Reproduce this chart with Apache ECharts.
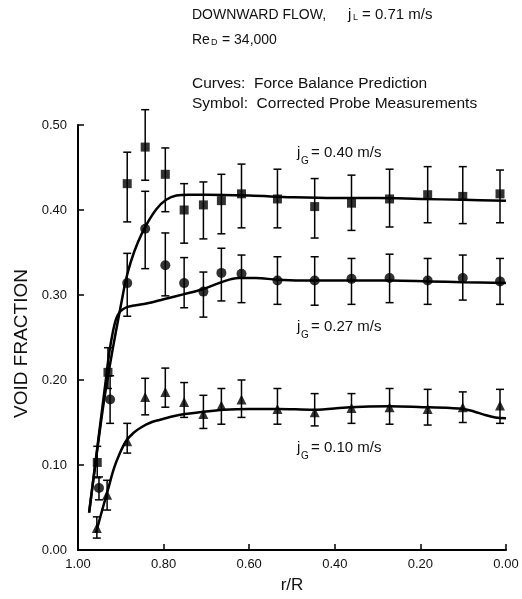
<!DOCTYPE html>
<html>
<head>
<meta charset="utf-8">
<title>Void fraction - downward flow</title>
<script src="https://cdn.jsdelivr.net/npm/echarts@6/dist/echarts.min.js"></script>
<style>
  html, body { margin: 0; padding: 0; background: #fff; }
  #chart { width: 522px; height: 599px; }
</style>
</head>
<body>
<div id="chart"></div>
<script>
// 测量点 jG = 0.40 m/s (方块)
var sqR   = [0.955, 0.930, 0.885, 0.843, 0.796, 0.752, 0.707, 0.665, 0.618, 0.534, 0.447, 0.361, 0.272, 0.183, 0.101, 0.014];
var sqVal = [0.103, 0.209, 0.431, 0.474, 0.442, 0.400, 0.406, 0.411, 0.419, 0.413, 0.404, 0.408, 0.413, 0.418, 0.416, 0.419];
var sqLo  = [0.085, 0.190, 0.386, 0.435, 0.398, 0.361, 0.366, 0.372, 0.379, 0.379, 0.367, 0.376, 0.380, 0.385, 0.384, 0.385];
var sqHi  = [0.122, 0.238, 0.468, 0.518, 0.473, 0.431, 0.433, 0.442, 0.454, 0.448, 0.437, 0.441, 0.448, 0.451, 0.451, 0.447];

// 测量点 jG = 0.27 m/s (圆点)
var ciR   = [0.951, 0.925, 0.885, 0.843, 0.796, 0.752, 0.707, 0.665, 0.618, 0.534, 0.447, 0.361, 0.272, 0.183, 0.101, 0.014];
var ciVal = [0.073, 0.177, 0.314, 0.378, 0.335, 0.314, 0.304, 0.326, 0.325, 0.317, 0.317, 0.319, 0.320, 0.317, 0.320, 0.316];
var ciLo  = [0.059, 0.149, 0.275, 0.331, 0.299, 0.285, 0.274, 0.293, 0.291, 0.289, 0.288, 0.289, 0.291, 0.289, 0.294, 0.289];
var ciHi  = [0.086, 0.205, 0.349, 0.422, 0.373, 0.344, 0.327, 0.355, 0.347, 0.345, 0.345, 0.343, 0.348, 0.343, 0.347, 0.343];

// 测量点 jG = 0.10 m/s (三角)
var trR   = [0.956, 0.932, 0.885, 0.843, 0.796, 0.752, 0.707, 0.665, 0.618, 0.534, 0.447, 0.361, 0.272, 0.183, 0.101, 0.014];
var trVal = [0.026, 0.065, 0.128, 0.180, 0.186, 0.174, 0.160, 0.170, 0.177, 0.166, 0.162, 0.167, 0.168, 0.166, 0.168, 0.170];
var trLo  = [0.014, 0.047, 0.114, 0.159, 0.168, 0.156, 0.143, 0.148, 0.156, 0.148, 0.146, 0.149, 0.148, 0.147, 0.150, 0.149];
var trHi  = [0.039, 0.082, 0.149, 0.202, 0.214, 0.197, 0.182, 0.190, 0.200, 0.190, 0.184, 0.184, 0.190, 0.189, 0.186, 0.189];

// 预测曲线 (Force Balance Prediction)
var sqCurveR = [0.974, 0.957, 0.939, 0.919, 0.899, 0.888, 0.876, 0.860, 0.841, 0.817, 0.794, 0.770, 0.740, 0.700, 0.600, 0.500, 0.400, 0.300, 0.200, 0.100, 0.000];
var sqCurveV = [0.044, 0.110, 0.176, 0.236, 0.290, 0.318, 0.340, 0.362, 0.382, 0.401, 0.412, 0.417, 0.418, 0.418, 0.417, 0.415, 0.414, 0.414, 0.413, 0.412, 0.411];
var ciCurveR = [0.974, 0.960, 0.945, 0.935, 0.927, 0.918, 0.911, 0.904, 0.896, 0.884, 0.865, 0.840, 0.800, 0.752, 0.707, 0.665, 0.625, 0.585, 0.534, 0.450, 0.360, 0.270, 0.180, 0.100, 0.000];
var ciCurveV = [0.044, 0.100, 0.160, 0.200, 0.232, 0.258, 0.272, 0.279, 0.283, 0.286, 0.288, 0.290, 0.295, 0.301, 0.307, 0.315, 0.320, 0.320, 0.318, 0.317, 0.317, 0.317, 0.316, 0.315, 0.314];
var trCurveR = [0.958, 0.944, 0.930, 0.916, 0.902, 0.888, 0.870, 0.850, 0.830, 0.810, 0.780, 0.750, 0.717, 0.660, 0.600, 0.534, 0.450, 0.365, 0.272, 0.194, 0.130, 0.100, 0.075, 0.050, 0.025, 0.000];
var trCurveV = [0.020, 0.046, 0.071, 0.096, 0.114, 0.128, 0.138, 0.145, 0.150, 0.153, 0.157, 0.160, 0.162, 0.165, 0.166, 0.166, 0.165, 0.168, 0.169, 0.168, 0.167, 0.166, 0.163, 0.159, 0.156, 0.155];

var xTicks = [0, 0.2, 0.4, 0.6, 0.8, 1.0];
var yTicks = [0, 0.1, 0.2, 0.3, 0.4, 0.5];

var FONT = '"Liberation Sans", Arial, Helvetica, sans-serif';

function pairs(xs, ys) {
  return xs.map(function(x, i) { return [x, ys[i]]; });
}
function bars(xs, lo, hi) {
  return xs.map(function(x, i) { return [x, lo[i], hi[i]]; });
}

// 误差棒
function renderErr(params, api) {
  var x = api.value(0);
  var lo = api.coord([x, api.value(1)]);
  var hi = api.coord([x, api.value(2)]);
  var w = 4;
  var st = { stroke: '#000', lineWidth: 1.5 };
  return {
    type: 'group',
    children: [
      { type: 'line', shape: { x1: hi[0], y1: hi[1], x2: lo[0], y2: lo[1] }, style: st },
      { type: 'line', shape: { x1: hi[0] - w, y1: hi[1], x2: hi[0] + w, y2: hi[1] }, style: st },
      { type: 'line', shape: { x1: lo[0] - w, y1: lo[1], x2: lo[0] + w, y2: lo[1] }, style: st }
    ]
  };
}

function txt(x, y, s, size) {
  return {
    type: 'text', x: x, y: y, silent: true,
    style: { text: s, fill: '#111', fontSize: size || 14, fontFamily: FONT, verticalAlign: 'middle' }
  };
}

var myChart = echarts.init(document.getElementById('chart'));

var option = {
  backgroundColor: '#fff',
  animation: false,
  grid: { left: 78, right: 16, top: 125, bottom: 49 },
  xAxis: {
    type: 'value', min: 0, max: 1, interval: 0.2, inverse: true,
    name: 'r/R', nameLocation: 'middle', nameGap: 27,
    nameTextStyle: { color: '#111', fontSize: 17, fontFamily: FONT },
    axisLine: { onZero: false, lineStyle: { color: '#000', width: 2 } },
    axisTick: { inside: true, length: 6, lineStyle: { color: '#000', width: 1.5 } },
    axisLabel: { color: '#111', fontSize: 13, fontFamily: FONT, margin: 8,
      formatter: function(v) { return v.toFixed(2); } },
    splitLine: { show: false }
  },
  yAxis: {
    type: 'value', min: 0, max: 0.5, interval: 0.1, position: 'left',
    name: 'VOID FRACTION', nameLocation: 'middle', nameGap: 40, nameRotate: 90,
    nameTextStyle: { color: '#111', fontSize: 19, fontFamily: FONT, padding: [0, 12, 0, 0] },
    axisLine: { onZero: false, lineStyle: { color: '#000', width: 2 } },
    axisTick: { inside: true, length: 6, lineStyle: { color: '#000', width: 1.5 } },
    axisLabel: { color: '#111', fontSize: 13, fontFamily: FONT, margin: 11,
      formatter: function(v) { return v.toFixed(2); } },
    splitLine: { show: false }
  },
  graphic: [
    txt(192, 15, 'DOWNWARD FLOW,'),
    txt(348, 15, 'j', 15),
    txt(353, 18, 'L', 9),
    txt(362, 15, '= 0.71 m/s', 15),
    txt(192, 40, 'Re'),
    txt(211, 43, 'D', 9),
    txt(222, 40, '= 34,000'),
    txt(192, 84, 'Curves:  Force Balance Prediction', 15.5),
    txt(192, 104, 'Symbol:  Corrected Probe Measurements', 15.5),
    txt(297, 153, 'j', 15),
    txt(301, 161, 'G', 10),
    txt(311, 153, '= 0.40 m/s', 15),
    txt(297, 327, 'j', 15),
    txt(301, 335, 'G', 10),
    txt(311, 327, '= 0.27 m/s', 15),
    txt(297, 448, 'j', 15),
    txt(301, 456, 'G', 10),
    txt(311, 448, '= 0.10 m/s', 15)
  ],
  series: [
    { type: 'line', data: pairs(sqCurveR, sqCurveV), showSymbol: false, smooth: 0.35,
      lineStyle: { color: '#000', width: 2.5 }, silent: true },
    { type: 'line', data: pairs(ciCurveR, ciCurveV), showSymbol: false, smooth: 0.35,
      lineStyle: { color: '#000', width: 2.5 }, silent: true },
    { type: 'line', data: pairs(trCurveR, trCurveV), showSymbol: false, smooth: 0.35,
      lineStyle: { color: '#000', width: 2.5 }, silent: true },
    { type: 'custom', renderItem: renderErr, data: bars(sqR, sqLo, sqHi), silent: true },
    { type: 'custom', renderItem: renderErr, data: bars(ciR, ciLo, ciHi), silent: true },
    { type: 'custom', renderItem: renderErr, data: bars(trR, trLo, trHi), silent: true },
    { type: 'scatter', data: pairs(sqR, sqVal), symbol: 'rect', symbolSize: 9,
      itemStyle: { color: '#000' }, z: 5 },
    { type: 'scatter', data: pairs(ciR, ciVal), symbol: 'circle', symbolSize: 10,
      itemStyle: { color: '#000' }, z: 5 },
    { type: 'scatter', data: pairs(trR, trVal), symbol: 'triangle', symbolSize: 10,
      itemStyle: { color: '#000' }, z: 5 }
  ]
};
myChart.setOption(option);
</script>
</body>
</html>
